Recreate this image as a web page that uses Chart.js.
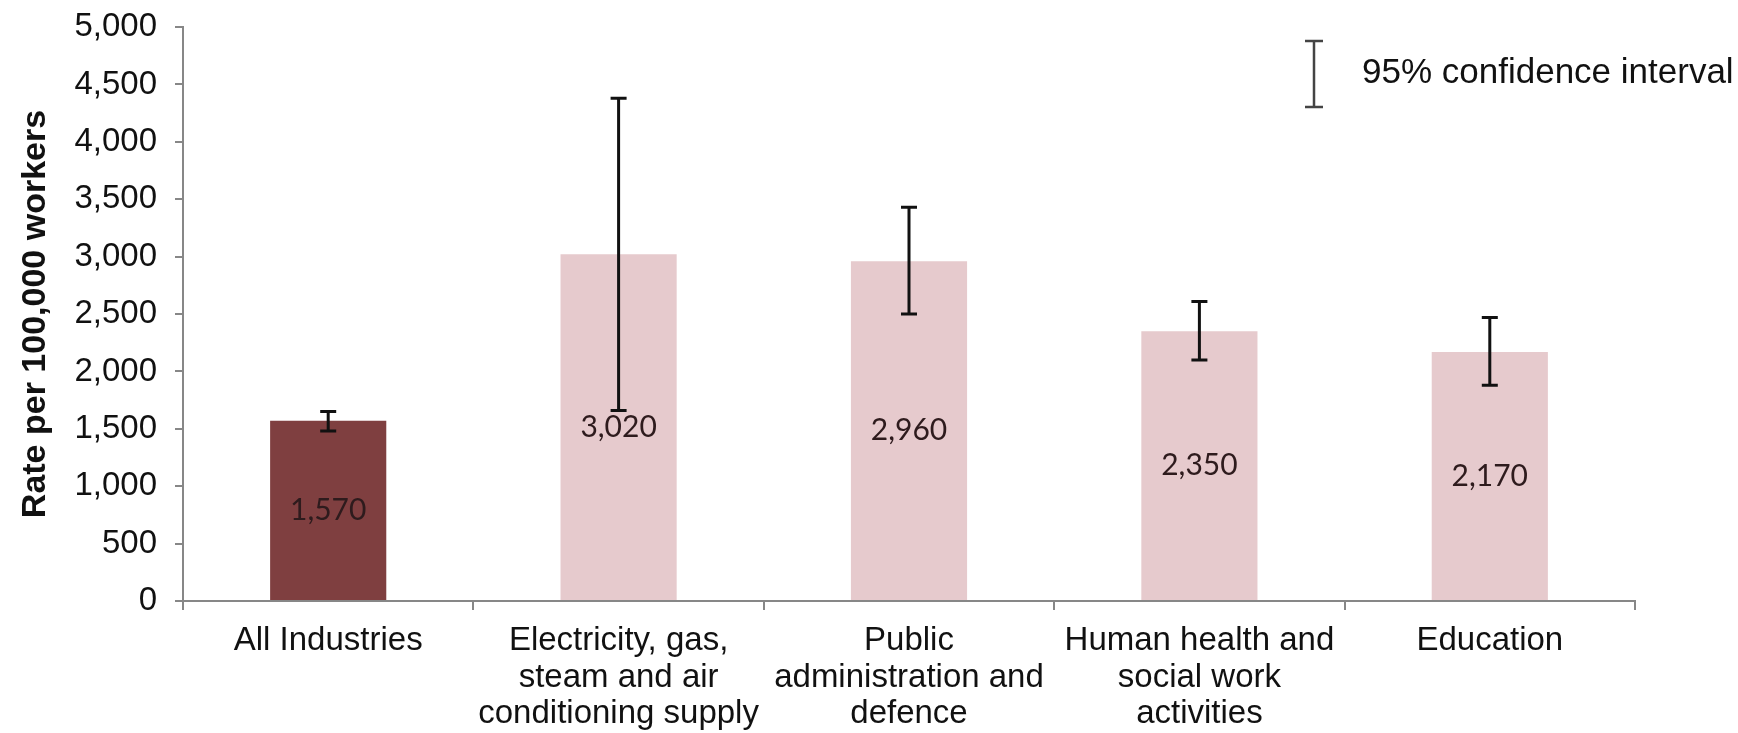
<!DOCTYPE html>
<html>
<head>
<meta charset="utf-8">
<script src="https://cdn.jsdelivr.net/npm/chart.js@4.4.0/dist/chart.umd.min.js"></script>
<style>
    html, body { margin: 0; padding: 0; background: #ffffff; }
    #wrap { width: 1738px; height: 733px; position: relative; }
</style>
</head>
<body>
<div id="wrap"><canvas id="grafico"></canvas></div>
<script>
// dados
const categorias = [
    ['All Industries'],
    ['Electricity, gas,', 'steam and air', 'conditioning supply'],
    ['Public', 'administration and', 'defence'],
    ['Human health and', 'social work', 'activities'],
    ['Education']
];
const taxas = [1570, 3020, 2960, 2350, 2170];
const icInferior = [1480, 1660, 2500, 2100, 1880];
const icSuperior = [1650, 4380, 3430, 2610, 2470];
const coresBarras = ['#7f3f40', '#e6cacd', '#e6cacd', '#e6cacd', '#e6cacd'];

const cinza = '#878787';

// barras de erro + rotulos + legenda
const extras = {
    id: 'extras',
    afterDatasetsDraw(chart) {
        const ctx = chart.ctx;
        const y = chart.scales.y;
        const meta = chart.getDatasetMeta(0);

        // rotulos dentro das barras
        ctx.save();
        ctx.font = '30px Lato';
        ctx.fillStyle = '#2e1b1d';
        ctx.textAlign = 'center';
        ctx.textBaseline = 'middle';
        meta.data.forEach((bar, i) => {
            const meio = (bar.y + bar.base) / 2;
            ctx.fillText(taxas[i].toLocaleString('en-US'), bar.x, meio);
        });
        ctx.restore();

        // intervalo de confianca
        ctx.save();
        ctx.strokeStyle = '#111111';
        ctx.lineWidth = 3;
        meta.data.forEach((bar, i) => {
            const yLo = y.getPixelForValue(icInferior[i]);
            const yHi = y.getPixelForValue(icSuperior[i]);
            ctx.beginPath();
            ctx.moveTo(bar.x, yLo);
            ctx.lineTo(bar.x, yHi);
            ctx.moveTo(bar.x - 8, yLo);
            ctx.lineTo(bar.x + 8, yLo);
            ctx.moveTo(bar.x - 8, yHi);
            ctx.lineTo(bar.x + 8, yHi);
            ctx.stroke();
        });

        // legenda
        ctx.strokeStyle = '#444444';
        ctx.lineWidth = 2.5;
        const lx = 1314;
        ctx.beginPath();
        ctx.moveTo(lx, 41);
        ctx.lineTo(lx, 107);
        ctx.moveTo(lx - 9, 41);
        ctx.lineTo(lx + 9, 41);
        ctx.moveTo(lx - 9, 107);
        ctx.lineTo(lx + 9, 107);
        ctx.stroke();
        ctx.font = '35px "Liberation Sans", Arial';
        ctx.fillStyle = '#111111';
        ctx.textAlign = 'left';
        ctx.textBaseline = 'middle';
        ctx.fillText('95% confidence interval', 1362, 73);
        ctx.restore();
    }
};

const ctx = document.getElementById('grafico');
new Chart(ctx, {
    type: 'bar',
    data: {
        labels: categorias,
        datasets: [{
            label: 'Rate',
            data: taxas,
            backgroundColor: coresBarras,
            borderWidth: 0,
            barPercentage: 0.4,
            categoryPercentage: 1.0
        }]
    },
    options: {
        responsive: true,
        maintainAspectRatio: false,
        animation: false,
        layout: {
            padding: { top: 0, right: 103, left: 0, bottom: 0 }
        },
        plugins: {
            legend: { display: false },
            tooltip: { enabled: false }
        },
        scales: {
            x: {
                afterFit: (scale) => { scale.height = 132; },
                grid: {
                    offset: true,
                    drawOnChartArea: false,
                    drawTicks: true,
                    tickLength: 9,
                    color: cinza,
                    lineWidth: 2
                },
                border: { color: cinza, width: 2 },
                ticks: {
                    color: '#111111',
                    padding: 13,
                    maxRotation: 0,
                    autoSkip: false,
                    font: { family: '"Liberation Sans", Arial', size: 33, lineHeight: 1.1 }
                }
            },
            y: {
                min: 0,
                max: 5000,
                afterFit: (scale) => { scale.width = 183; },
                grid: {
                    drawOnChartArea: false,
                    drawTicks: true,
                    tickLength: 8,
                    color: cinza,
                    lineWidth: 2
                },
                border: { color: cinza, width: 2 },
                ticks: {
                    stepSize: 500,
                    color: '#111111',
                    padding: 18,
                    font: { family: '"Liberation Sans", Arial', size: 33, lineHeight: 0.55 }
                },
                title: {
                    display: true,
                    text: 'Rate per 100,000 workers',
                    color: '#111111',
                    padding: { top: 15, bottom: 0 },
                    font: { family: '"Liberation Sans", Arial', size: 34, weight: 'bold' }
                }
            }
        }
    },
    plugins: [extras]
});
</script>
</body>
</html>
